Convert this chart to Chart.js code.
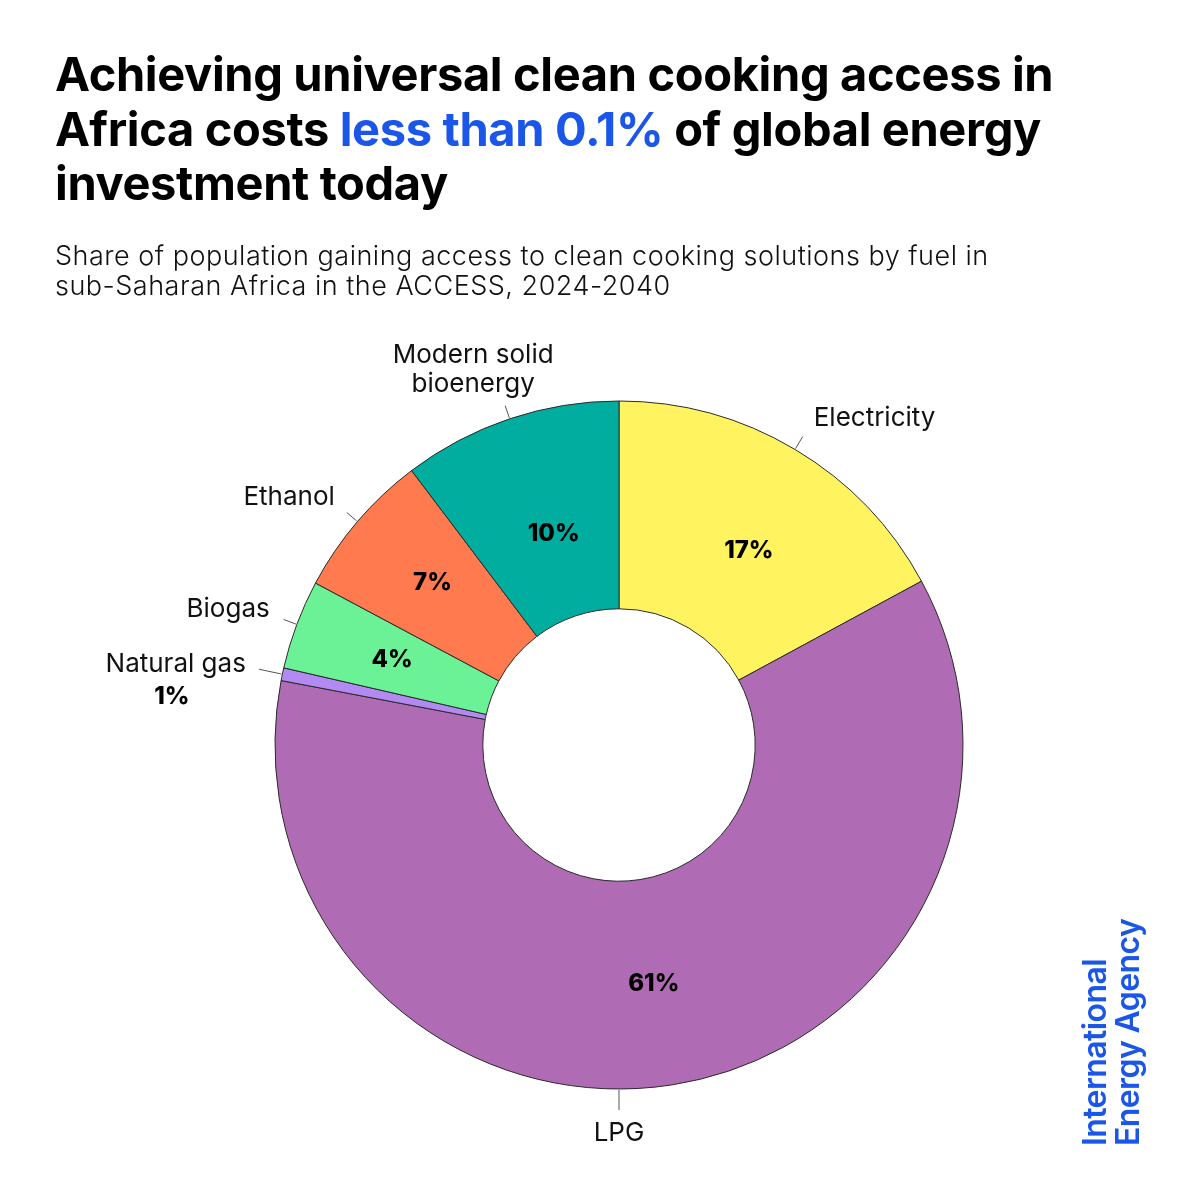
<!DOCTYPE html>
<html><head><meta charset="utf-8">
<script src="https://cdn.jsdelivr.net/npm/chart.js@4.4.1/dist/chart.umd.min.js"></script>
<style>
html,body{margin:0;padding:0;background:#fff;}
#wrap{position:relative;width:1200px;height:1200px;overflow:hidden;background:#fff;}
#c{position:absolute;left:0;top:0;}
#title{position:absolute;left:55px;top:47px;width:1120px;font-family:Inter,"Open Sans",sans-serif;font-weight:700;font-size:47px;line-height:54.5px;letter-spacing:-0.35px;color:#000;}
#title .hl{color:#1a56e8;}
#sub{position:absolute;left:55px;top:241px;width:1120px;font-family:Inter,"Open Sans",sans-serif;font-weight:300;font-size:27px;line-height:30px;letter-spacing:0.5px;color:#111;}
#iea{position:absolute;left:1078px;top:1146px;transform:rotate(-90deg);transform-origin:top left;white-space:nowrap;font-family:Inter,"Open Sans",sans-serif;font-weight:600;font-size:32px;line-height:33px;color:#1a56e8;letter-spacing:-0.6px;}
</style>
</head>
<body>
<div id="wrap">
  <canvas id="c" width="1200" height="1200"></canvas>
  <div id="title">Achieving universal clean cooking access in<br>Africa costs <span class="hl">less than 0.1%</span> of global energy<br>investment today</div>
  <div id="sub">Share of population gaining access to clean cooking solutions by fuel in<br>sub-Saharan Africa in the ACCESS, 2024-2040</div>
  <div id="iea">International<br>Energy Agency</div>
</div>
<script>
// ---- data ----
const categories = ['Electricity', 'LPG', 'Natural gas', 'Biogas', 'Ethanol', 'Modern solid bioenergy'];
const shares = [17.1, 60.9, 0.6, 4.2, 6.9, 10.3];
const labelLines = [['Electricity'], ['LPG'], ['Natural gas'], ['Biogas'], ['Ethanol'], ['Modern solid', 'bioenergy']];
const colors = ['#fff35f', '#af6bb3', '#b38af2', '#6cf296', '#ff7a4f', '#00ad9f'];

// ---- label styling (positions relative to leader-line end / slice centre) ----
const labelStyle = [
  {r0: 345, r1: 359, dx: 11, dy: -18, align: 'left', pctInside: true, pdx: 7, pdy: 12},
  {r0: 345, r1: 365, dx: 0, dy: 23, align: 'center', pctInside: true, angle: Math.PI / 2, pdx: -2, pdy: 2},
  {r0: 345, r1: 368, dx: -13, dy: -5, align: 'right', pctInside: false, pdx: -87, pdy: 28},
  {r0: 345, r1: 358, dx: -14, dy: -10, align: 'right', pctInside: true, pdx: -2, pdy: -1},
  {r0: 345, r1: 358, dx: -12, dy: -15, align: 'right', pctInside: true, pdx: -4, pdy: -6},
  {r0: 345, r1: 358, dx: -32, dy: -50, align: 'center', pctInside: true, pdx: 11, pdy: 16}
];

const labelPlugin = {
  id: 'sliceLabels',
  afterDatasetsDraw(chart) {
    const ctx = chart.ctx;
    const meta = chart.getDatasetMeta(0);
    const ds = chart.data.datasets[0];
    meta.data.forEach((arc, i) => {
      const p = arc.getProps(['x', 'y', 'startAngle', 'endAngle', 'innerRadius', 'outerRadius'], true);
      const st = labelStyle[i];
      const a = (st.angle !== undefined) ? st.angle : (p.startAngle + p.endAngle) / 2;
      const x0 = p.x + st.r0 * Math.cos(a), y0 = p.y + st.r0 * Math.sin(a);
      const x1 = p.x + st.r1 * Math.cos(a), y1 = p.y + st.r1 * Math.sin(a);
      ctx.save();
      ctx.strokeStyle = '#555';
      ctx.lineWidth = 1;
      ctx.beginPath(); ctx.moveTo(x0, y0); ctx.lineTo(x1, y1); ctx.stroke();
      ctx.fillStyle = '#111';
      ctx.font = '400 26px Inter, "Open Sans", sans-serif';
      ctx.textAlign = st.align;
      ctx.textBaseline = 'middle';
      labelLines[i].forEach((ln, k) => {
        ctx.fillText(ln, x1 + st.dx, y1 + st.dy + k * 29);
      });
      const pct = Math.round(ds.data[i]) + '%';
      ctx.font = '800 24px Inter, "Open Sans", sans-serif';
      ctx.fillStyle = '#000';
      ctx.textAlign = 'center';
      if (st.pctInside) {
        const tp = arc.tooltipPosition(true);
        ctx.fillText(pct, tp.x + st.pdx, tp.y + st.pdy);
      } else {
        ctx.fillText(pct, x1 + st.pdx, y1 + st.pdy);
      }
      ctx.restore();
    });
  }
};

new Chart(document.getElementById('c'), {
  type: 'doughnut',
  data: {
    labels: categories,
    datasets: [{
      data: shares,
      backgroundColor: colors,
      borderColor: '#2a2a2a',
      borderWidth: 1,
      borderAlign: 'center'
    }]
  },
  options: {
    responsive: false,
    animation: false,
    devicePixelRatio: 1,
    radius: 344,
    cutout: 136,
    layout: {padding: {left: 275, right: 237, top: 401, bottom: 111}},
    plugins: {legend: {display: false}, tooltip: {enabled: false}, title: {display: false}}
  },
  plugins: [labelPlugin]
});
</script>
</body></html>
